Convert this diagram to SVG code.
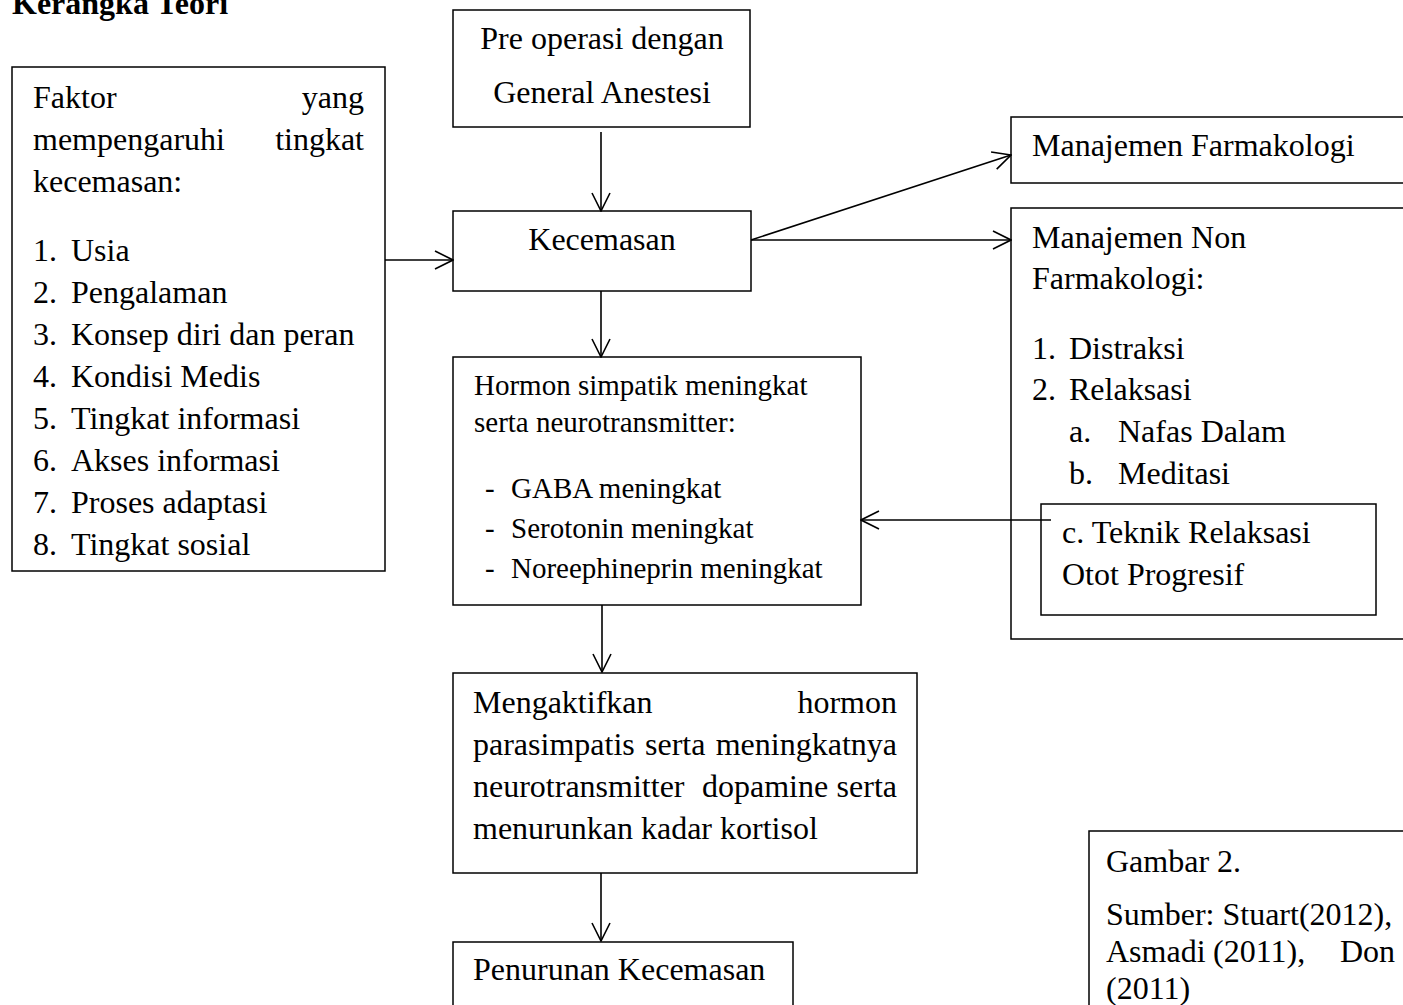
<svg xmlns="http://www.w3.org/2000/svg" width="1403" height="1005" viewBox="0 0 1403 1005">
<style>
.box{fill:#fff;stroke:#000;stroke-width:1.5}
.t{font-family:"Liberation Serif","Times New Roman",serif;font-size:32px;fill:#000}
.s{font-size:29px}
.c{text-anchor:middle}
.e{text-anchor:end}
.ttl{font-weight:bold}
.ln{stroke:#000;stroke-width:1.6;fill:none}
</style>
<defs>
<marker id="arr" viewBox="0 0 20 20" refX="19" refY="10" markerWidth="20" markerHeight="20" markerUnits="userSpaceOnUse" orient="auto">
<path d="M1,1 L19,10 L1,19" fill="none" stroke="#000" stroke-width="1.6"/>
</marker>
</defs>
<rect width="1403" height="1005" fill="#fff"/>
<text class="t ttl" x="12" y="14">Kerangka Teori</text>

<g id="faktor">
<rect class="box" x="12" y="67" width="373" height="504"/>
<text class="t" x="33" y="108">Faktor</text>
<text class="t e" x="364" y="108">yang</text>
<text class="t" x="33" y="150">mempengaruhi</text>
<text class="t e" x="364" y="150">tingkat</text>
<text class="t" x="33" y="192">kecemasan:</text>
<text class="t" x="33" y="261">1.</text><text class="t" x="71" y="261">Usia</text>
<text class="t" x="33" y="303">2.</text><text class="t" x="71" y="303">Pengalaman</text>
<text class="t" x="33" y="345">3.</text><text class="t" x="71" y="345">Konsep diri dan peran</text>
<text class="t" x="33" y="387">4.</text><text class="t" x="71" y="387">Kondisi Medis</text>
<text class="t" x="33" y="429">5.</text><text class="t" x="71" y="429">Tingkat informasi</text>
<text class="t" x="33" y="471">6.</text><text class="t" x="71" y="471">Akses informasi</text>
<text class="t" x="33" y="513">7.</text><text class="t" x="71" y="513">Proses adaptasi</text>
<text class="t" x="33" y="555">8.</text><text class="t" x="71" y="555">Tingkat sosial</text>
</g>

<g id="preop">
<rect class="box" x="453" y="10" width="297" height="117"/>
<text class="t c" x="602" y="49">Pre operasi dengan</text>
<text class="t c" x="602" y="103">General Anestesi</text>
</g>

<g id="kecemasan">
<rect class="box" x="453" y="211" width="298" height="80"/>
<text class="t c" x="602" y="250">Kecemasan</text>
</g>

<g id="farmakologi">
<rect class="box" x="1011" y="117" width="400" height="66"/>
<text class="t" x="1032" y="156">Manajemen Farmakologi</text>
</g>

<g id="nonfarmakologi">
<rect class="box" x="1011" y="208" width="400" height="431"/>
<text class="t" x="1032" y="248">Manajemen Non</text>
<text class="t" x="1032" y="289">Farmakologi:</text>
<text class="t" x="1032" y="359">1.</text><text class="t" x="1069" y="359">Distraksi</text>
<text class="t" x="1032" y="400">2.</text><text class="t" x="1069" y="400">Relaksasi</text>
<text class="t" x="1069" y="442">a.</text><text class="t" x="1118" y="442">Nafas Dalam</text>
<text class="t" x="1069" y="484">b.</text><text class="t" x="1118" y="484">Meditasi</text>
</g>

<g id="pmr">
<rect class="box" x="1041" y="504" width="335" height="111"/>
<text class="t" x="1062" y="543">c. Teknik Relaksasi</text>
<text class="t" x="1062" y="585">Otot Progresif</text>
</g>

<g id="hormon">
<rect class="box" x="453" y="357" width="408" height="248"/>
<text class="t s" x="474" y="395">Hormon simpatik meningkat</text>
<text class="t s" x="474" y="432">serta neurotransmitter:</text>
<text class="t s" x="485" y="498">-</text><text class="t s" x="511" y="498">GABA meningkat</text>
<text class="t s" x="485" y="538">-</text><text class="t s" x="511" y="538">Serotonin meningkat</text>
<text class="t s" x="485" y="578">-</text><text class="t s" x="511" y="578">Noreephineprin meningkat</text>
</g>

<g id="parasimpatis">
<rect class="box" x="453" y="673" width="464" height="200"/>
<text class="t" x="473" y="713">Mengaktifkan</text>
<text class="t e" x="897" y="713">hormon</text>
<text class="t" x="473" y="755">parasimpatis</text>
<text class="t" x="645" y="755">serta</text>
<text class="t e" x="897" y="755">meningkatnya</text>
<text class="t" x="473" y="797">neurotransmitter</text>
<text class="t" x="702" y="797">dopamine</text>
<text class="t e" x="897" y="797">serta</text>
<text class="t" x="473" y="839">menurunkan kadar kortisol</text>
</g>

<g id="penurunan">
<rect class="box" x="453" y="942" width="340" height="80"/>
<text class="t" x="473" y="980">Penurunan Kecemasan</text>
</g>

<g id="gambar">
<rect class="box" x="1089" y="831" width="330" height="200"/>
<text class="t" x="1106" y="872">Gambar 2.</text>
<text class="t" x="1106" y="925">Sumber: Stuart(2012),</text>
<text class="t" x="1106" y="962">Asmadi</text>
<text class="t" x="1213" y="962">(2011),</text>
<text class="t" x="1340" y="962">Don</text>
<text class="t" x="1106" y="999">(2011)</text>
</g>

<g id="connectors">
<line class="ln" x1="601" y1="132" x2="601" y2="211" marker-end="url(#arr)"/>
<line class="ln" x1="385" y1="260" x2="453" y2="260" marker-end="url(#arr)"/>
<line class="ln" x1="751" y1="240" x2="1011" y2="155" marker-end="url(#arr)"/>
<line class="ln" x1="751" y1="240" x2="1011" y2="240" marker-end="url(#arr)"/>
<line class="ln" x1="601" y1="291" x2="601" y2="357" marker-end="url(#arr)"/>
<line class="ln" x1="1051" y1="520" x2="861" y2="520" marker-end="url(#arr)"/>
<line class="ln" x1="602" y1="605" x2="602" y2="672" marker-end="url(#arr)"/>
<line class="ln" x1="601" y1="873" x2="601" y2="941" marker-end="url(#arr)"/>
</g>
</svg>
